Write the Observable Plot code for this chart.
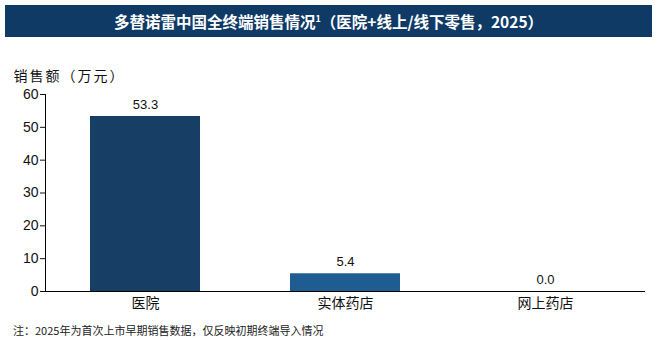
<!DOCTYPE html>
<html><head><meta charset="utf-8">
<script src="https://cdn.jsdelivr.net/npm/d3@7"></script>
<script src="https://cdn.jsdelivr.net/npm/@observablehq/plot@0.6"></script>
<style>
body{margin:0;background:#fff;font-family:"Liberation Sans","Noto Sans CJK SC",sans-serif;}
#title{position:relative;margin:5px 7px 0 5px;height:32px;background:#0f3a66;color:#fff;font-weight:bold;font-size:15.5px;line-height:32px;text-align:center;font-family:"Noto Sans CJK SC",sans-serif;}
#note{font-size:11px;color:#222;margin-left:13px;margin-top:4px;font-family:"Noto Sans CJK SC",sans-serif;}
.ylab text{letter-spacing:2px;}
</style></head><body>
<div id="title">多替诺雷中国全终端销售情况<sup style="font-size:9px;line-height:0">1</sup>（医院+线上/线下零售，2025）</div>
<div id="chart"></div>
<div id="note">注：2025年为首次上市早期销售数据，仅反映初期终端导入情况</div>
<script>
const categories = ["医院", "实体药店", "网上药店"];
const values = [53.3, 5.4, 0.0];
const colors = ["#173f66", "#1f5c91", "#1f5c91"];
const yTicks = [0, 10, 20, 30, 40, 50, 60];
const yLabel = "销售额（万元）";

const data = categories.map((c, i) => ({cat: c, v: values[i], color: colors[i]}));

const chart = Plot.plot({
  width: 659, height: 281,
  marginLeft: 45, marginRight: 14, marginTop: 57, marginBottom: 27,
  style: {fontFamily: "'Liberation Sans','Noto Sans CJK SC',sans-serif", fontSize: "14px", color: "#111"},
  x: {domain: categories, paddingInner: 0.45, paddingOuter: 0.225, label: null},
  y: {domain: [0, 60], ticks: yTicks, label: null},
  marks: [
    Plot.barY(data, {x: "cat", y: "v", fill: "color"}),
    Plot.text(data, {x: "cat", y: "v", text: d => d.v.toFixed(1), dy: -12, fontSize: 13, fill: "#111"}),
    Plot.axisY({ticks: yTicks, tickSize: 5, fontSize: 14, tickPadding: 2}),
    Plot.axisX({tickSize: 0, fontSize: 14, tickPadding: 7, fontFamily: "'Noto Sans CJK SC',sans-serif"}),
    Plot.frame({anchor: "left", stroke: "#000"}),
    Plot.ruleY([0], {stroke: "#000"}),
    Plot.text([yLabel], {frameAnchor: "top-left", dx: -32, dy: -23, textAnchor: "start", fontSize: 14, fontFamily: "'Noto Sans CJK SC',sans-serif", fill: "#111", className: "ylab"})
  ]
});
document.getElementById("chart").appendChild(chart);
</script>
</body></html>
